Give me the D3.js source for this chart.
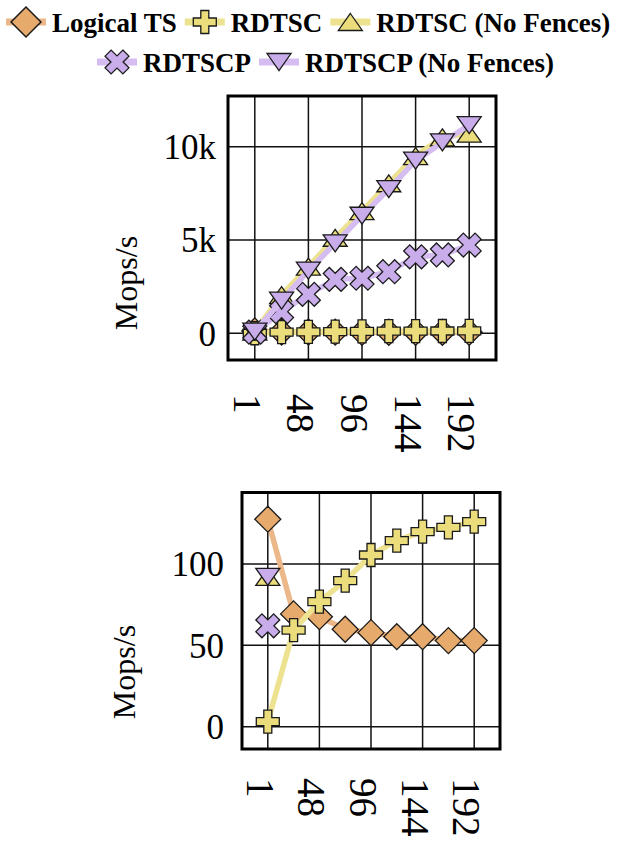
<!DOCTYPE html>
<html><head><meta charset="utf-8">
<script src="https://cdn.jsdelivr.net/npm/d3@7"></script>
<style>
html,body{margin:0;padding:0;background:#fff;}
svg{display:block;}
svg text{font-family:"Liberation Serif","Tinos","DejaVu Serif","Noto Serif","Times New Roman",serif;}
</style>
</head><body>
<svg id="chart" width="636" height="844"></svg>
<script>
// ---- data ----
const threads = [1, 24, 48, 72, 96, 120, 144, 168, 192];
const xTickLabels = [1, 48, 96, 144, 192];
const seriesNames = ["Logical TS", "RDTSC", "RDTSC (No Fences)", "RDTSCP", "RDTSCP (No Fences)"];
const logicalTS        = [127.5, 69.3, 67.6, 59.9, 57.8, 55.3, 55.3, 52.9, 52.9];
const rdtsc            = [3.1, 59.4, 76.8, 89.7, 105.5, 114.3, 119.9, 122.5, 126];
const rdtscNoFences    = [92, 2050, 3570, 5120, 6550, 8040, 9500, 10500, 10700];
const rdtscp           = [62, 1160, 2090, 2890, 2950, 3300, 4100, 4200, 4730];
const rdtscpNoFences   = [92, 1750, 3360, 4820, 6300, 7730, 9250, 10230, 11160];
const topYTicks = [0, 5000, 10000];
const topYTickLabels = ["0", "5k", "10k"];
const bottomYTicks = [0, 50, 100];
const bottomYTickLabels = ["0", "50", "100"];
const yLabel = "Mops/s";

// ---- styles ----
const styles = [
  {shape: "diamond", fill: "#e6aa6d", line: "#ecb889"},
  {shape: "plus", fill: "#ebdd7c", line: "#ede290"},
  {shape: "triUp", fill: "#ebdd7c", line: "#ede290"},
  {shape: "x", fill: "#c9adeb", line: "#d6bdf1"},
  {shape: "triDown", fill: "#c9adeb", line: "#d6bdf1"}
];
const allValues = [logicalTS, rdtsc, rdtscNoFences, rdtscp, rdtscpNoFences];

function plusPath(L, a) {
  return `M${-a},${-L}L${a},${-L}L${a},${-a}L${L},${-a}L${L},${a}L${a},${a}L${a},${L}L${-a},${L}L${-a},${a}L${-L},${a}L${-L},${-a}L${-a},${-a}Z`;
}
const shapes = {
  diamond: "M0,-13L13,0L0,13L-13,0Z",
  plus: plusPath(11.5, 4),
  x: plusPath(12.6, 4.3),
  triUp: "M0,-8.5L12,8.5L-12,8.5Z",
  triDown: "M-12,-8.5L12,-8.5L0,8.5Z"
};
function markerTransform(shape, x, y, scale) {
  scale = scale || 1;
  return `translate(${x},${y})` + (shape === "x" ? " rotate(45)" : "") + ` scale(${scale})`;
}

const svg = d3.select("#chart");

function drawPanel(cfg) {
  const x = d3.scalePoint().domain(threads).range([cfg.left, cfg.right]).padding(1);
  const y = d3.scaleLinear().domain(cfg.yDomain).range([cfg.bottom, cfg.top]);
  const g = svg.append("g");
  // gridlines
  g.append("g").selectAll("line").data(xTickLabels).join("line")
    .attr("x1", d => x(d)).attr("x2", d => x(d))
    .attr("y1", cfg.top).attr("y2", cfg.bottom)
    .attr("stroke", "#111").attr("stroke-width", 1.5);
  g.append("g").selectAll("line").data(cfg.yTicks).join("line")
    .attr("x1", cfg.left).attr("x2", cfg.right)
    .attr("y1", d => y(d)).attr("y2", d => y(d))
    .attr("stroke", "#111").attr("stroke-width", 1.5);
  // series
  const [y0, y1] = cfg.yDomain;
  allValues.forEach((vals, si) => {
    const st = styles[si];
    const pts = threads.map((t, i) => ({t, v: vals[i], ok: vals[i] >= y0 && vals[i] <= y1}));
    const line = d3.line().defined(d => d.ok).x(d => x(d.t)).y(d => y(d.v));
    g.append("path").datum(pts).attr("d", line)
      .attr("fill", "none").attr("stroke", st.line).attr("stroke-width", 5.5)
      .attr("stroke-linejoin", "round").attr("stroke-linecap", "round");
    g.append("g").selectAll("path").data(pts.filter(d => d.ok)).join("path")
      .attr("d", shapes[st.shape])
      .attr("transform", d => markerTransform(st.shape, x(d.t), y(d.v)))
      .attr("fill", st.fill).attr("stroke", "#1a1a1a").attr("stroke-width", 1.3);
  });
  // frame
  g.append("rect").attr("x", cfg.left).attr("y", cfg.top)
    .attr("width", cfg.right - cfg.left).attr("height", cfg.bottom - cfg.top)
    .attr("fill", "none").attr("stroke", "#000").attr("stroke-width", 3);
  // y tick labels
  g.append("g").selectAll("text").data(cfg.yTicks).join("text")
    .attr("x", cfg.yLabelRight).attr("y", d => y(d) + 1)
    .attr("text-anchor", "end").attr("dominant-baseline", "central")
    .attr("font-size", 35).attr("fill", "#000")
    .text((d, i) => cfg.yTickLabels[i]);
  // x tick labels (rotated)
  g.append("g").selectAll("text").data(xTickLabels).join("text")
    .attr("transform", d => `translate(${x(d) - 7.5},${cfg.xLabelTop}) rotate(90)`)
    .attr("text-anchor", "start").attr("dominant-baseline", "central")
    .attr("font-size", 39).attr("fill", "#000")
    .text(d => d);
  // y axis label
  g.append("text")
    .attr("transform", `translate(${cfg.yTitleX},${cfg.yTitleY}) rotate(-90)`)
    .attr("text-anchor", "middle").attr("dominant-baseline", "central")
    .attr("font-size", 32).attr("fill", "#000")
    .text(yLabel);
}

drawPanel({left: 228, right: 496, top: 96, bottom: 360, yDomain: [-1431, 12717],
  yTicks: topYTicks, yTickLabels: topYTickLabels, yLabelRight: 216, xLabelTop: 394,
  yTitleX: 126, yTitleY: 283});
drawPanel({left: 242, right: 500, top: 492.5, bottom: 749, yDomain: [-13.7, 143.9],
  yTicks: bottomYTicks, yTickLabels: bottomYTickLabels, yLabelRight: 224, xLabelTop: 778,
  yTitleX: 124, yTitleY: 672});

// ---- legend ----
const legendRows = [[0, 1, 2], [3, 4]];
const legendStart = [6, 97];
const legendY = [22, 62];
const lg = svg.append("g");
legendRows.forEach((row, ri) => {
  let cx = legendStart[ri];
  row.forEach(si => {
    const st = styles[si];
    const item = lg.append("g");
    item.append("line").attr("x1", cx).attr("x2", cx + 40)
      .attr("y1", legendY[ri]).attr("y2", legendY[ri])
      .attr("stroke", st.line).attr("stroke-width", 7);
    item.append("path").attr("d", shapes[st.shape])
      .attr("transform", markerTransform(st.shape, cx + 20, legendY[ri], st.shape === "diamond" ? 1.15 : 1.0))
      .attr("fill", st.fill).attr("stroke", "#1a1a1a").attr("stroke-width", 1.3);
    const t = item.append("text").attr("x", cx + 46).attr("y", legendY[ri] + 10)
      .attr("font-weight", "bold").attr("font-size", 27)
      .attr("fill", "#000").text(seriesNames[si]);
    cx = cx + 46 + t.node().getComputedTextLength() + 8;
  });
});
</script>
</body></html>
